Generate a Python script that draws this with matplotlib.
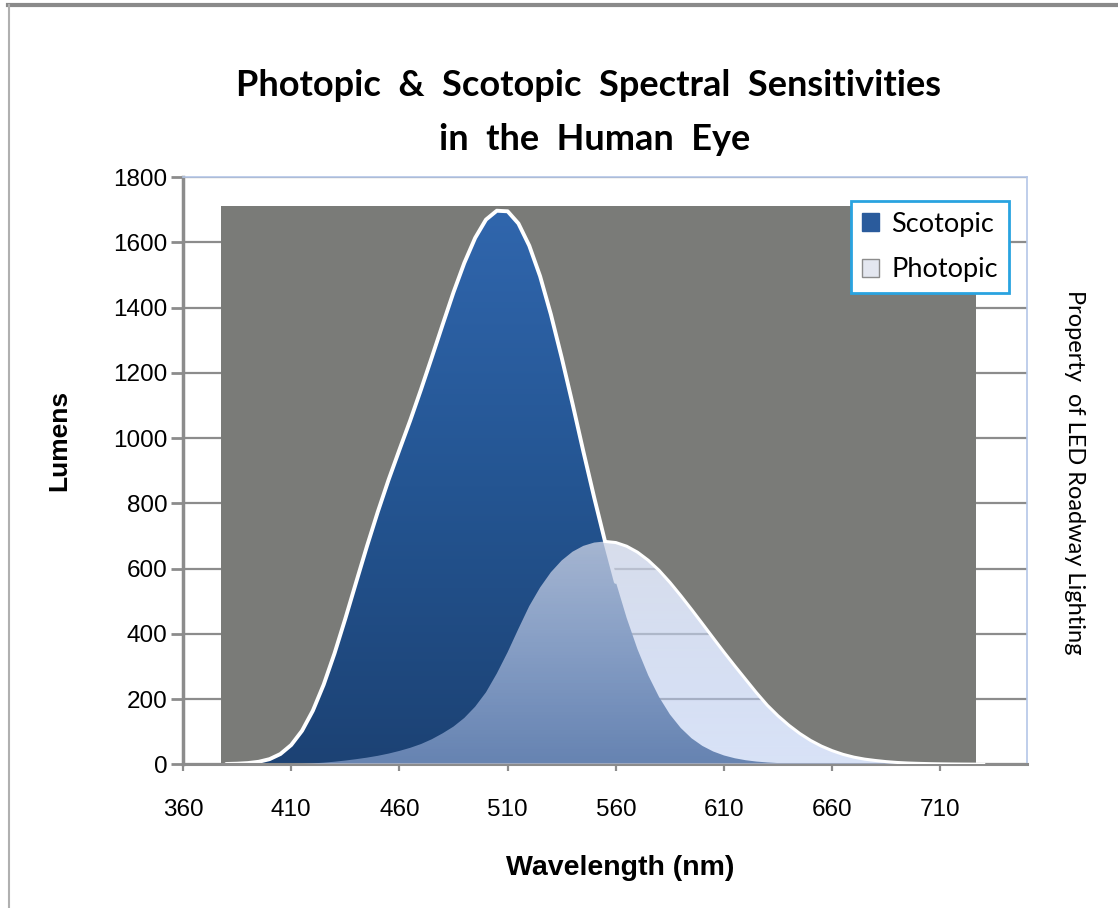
import numpy as np
import matplotlib
matplotlib.use("Agg")
import matplotlib.pyplot as plt
import matplotlib.patches as patches
from matplotlib.lines import Line2D
from matplotlib.colors import LinearSegmentedColormap

# wavelength grid (nm) and luminous efficacy curves (lumens)
wavelength = np.arange(380, 731, 5)
scotopic = [1.0, 1.9, 3.8, 7.7, 15.8, 31.5, 59.2, 102.7, 164.2, 244.1,
            339.7, 446.3, 557.8, 668.3, 773.5, 872.1, 963.9, 1054.0, 1149.2, 1247.8,
            1348.1, 1446.7, 1536.8, 1613.3, 1669.4, 1696.6, 1694.9, 1657.5, 1589.5, 1496.0,
            1378.7, 1246.1, 1105.0, 958.8, 817.7, 683.4, 559.0, 448.6, 352.9, 272.3,
            206.0, 152.8, 111.4, 79.7, 56.4, 39.3, 27.1, 18.5, 12.5, 8.4,
            5.7, 3.8, 2.5, 1.7, 1.2, 0.8, 0.5, 0.4, 0.3, 0.2,
            0.1, 0.1, 0.1, 0.0, 0.0, 0.0, 0.0, 0.0, 0.0, 0.0,
            0.0]
photopic = [0.03, 0.04, 0.08, 0.15, 0.27, 0.44, 0.83, 1.49, 2.73, 4.99,
            7.92, 11.5, 15.7, 20.4, 26.0, 32.8, 41.0, 50.5, 62.1, 76.9,
            95.0, 115.6, 142.1, 176.6, 220.6, 278.2, 343.5, 415.4, 484.9, 541.8,
            588.7, 624.8, 651.6, 669.5, 679.6, 683.0, 679.6, 668.4, 650.2, 625.2,
            594.2, 557.5, 517.0, 474.6, 431.0, 387.1, 343.5, 301.3, 260.2, 219.2,
            181.0, 148.2, 119.5, 94.4, 73.1, 55.7, 41.7, 30.4, 21.9, 15.8,
            11.6, 8.1, 5.6, 3.9, 2.8, 2.0, 1.4, 1.0, 0.7, 0.5,
            0.36]
# grey backdrop series
band_x = [377.5, 726.5]
band_top = 1710

x_ticks = [360, 410, 460, 510, 560, 610, 660, 710]
y_ticks = [0, 200, 400, 600, 800, 1000, 1200, 1400, 1600, 1800]

sco = np.array(scotopic)
pho = np.array(photopic)
wl = wavelength

fig = plt.figure(figsize=(11.18, 9.08), dpi=100)
ax = fig.add_axes([183 / 1118, 1 - 764.3 / 908, 844 / 1118, 587.3 / 908])

grid_col = '#8c8c8c'
ax.set_yticks(y_ticks)
ax.set_xticks(x_ticks)
ax.grid(axis='y', color=grid_col, lw=1.6)
ax.grid(axis='x', visible=False)
ax.set_axisbelow(True)

# grey background block
ax.add_patch(patches.Rectangle((band_x[0], 0), band_x[1] - band_x[0], band_top,
                               facecolor='#7a7b78', edgecolor='none', zorder=1))

# photopic region sits on white with gridlines showing through
poly_p = patches.Polygon(np.column_stack([np.r_[wl, wl[::-1]], np.r_[pho, np.zeros_like(pho)]]),
                         closed=True, facecolor='white', edgecolor='none', zorder=1.1)
ax.add_patch(poly_p)
gl = ax.hlines(y_ticks[1:], 360, 750, colors=grid_col, lw=1.6, zorder=1.2)
gl.set_clip_path(poly_p)

# scotopic, vertical blue gradient
poly_s = patches.Polygon(np.column_stack([np.r_[wl, wl[::-1]], np.r_[sco, np.zeros_like(sco)]]),
                         closed=True, facecolor='none', edgecolor='none')
ax.add_patch(poly_s)
blue = LinearSegmentedColormap.from_list('sco', ['#1c4274', '#245592', '#3066ad'])
grad = np.linspace(0, 1, 256).reshape(-1, 1)
im_s = ax.imshow(grad, extent=[360, 750, 0, 1700], origin='lower', aspect='auto',
                 cmap=blue, zorder=2, interpolation='bilinear')
im_s.set_clip_path(poly_s)

cross = int(np.argmax(pho >= sco))
s_line = np.where(np.arange(len(wl)) <= cross, sco, np.nan)
ax.plot(wl, s_line, color='white', lw=2.8, zorder=2.5, solid_capstyle='round')

# photopic, pale fill that grows bluer and more transparent toward the bottom
gy = np.linspace(0, 700, 256)
t = np.clip(gy / 690, 0, 1)[:, None]
top_c = np.array([205, 212, 230]) / 255
bot_c = np.array([178, 198, 240]) / 255
rgba = np.zeros((256, 1, 4))
rgba[..., :3] = (bot_c * (1 - t) + top_c * t)[:, None, :]
rgba[..., 3] = 0.5 + 0.28 * t
im_p = ax.imshow(rgba, extent=[360, 750, 0, 700], origin='lower', aspect='auto',
                 zorder=3, interpolation='bilinear')
clip_p = patches.Polygon(poly_p.get_xy(), closed=True, facecolor='none', edgecolor='none')
ax.add_patch(clip_p)
im_p.set_clip_path(clip_p)

p_line = np.where(np.arange(len(wl)) >= cross - 1, pho, np.nan)
ax.plot(wl, p_line, color='white', lw=2.2, zorder=3.5)

ax.set_xlim(360, 750)
ax.set_ylim(0, 1800)

for s in ['top', 'right']:
    ax.spines[s].set_color('#b4c6e7')
    ax.spines[s].set_linewidth(1.2)
ax.spines['left'].set_color(grid_col)
ax.spines['left'].set_linewidth(2.5)
ax.spines['bottom'].set_color(grid_col)
ax.spines['bottom'].set_linewidth(2.2)

ax.tick_params(axis='y', length=9, width=2, color=grid_col, pad=2, labelsize=17.5)
ax.tick_params(axis='x', length=5, width=1.6, color=grid_col, pad=20, labelsize=17.5)
for lab in ax.get_yticklabels() + ax.get_xticklabels():
    lab.set_family(['Liberation Sans', 'DejaVu Sans'])

ax.set_xlabel('Wavelength (nm)', fontsize=20.5, fontweight='bold', family='Liberation Sans')
ax.xaxis.set_label_coords((620 - 183) / 844, -(855 - 764.3) / 587.3)
ax.set_ylabel('Lumens', fontsize=19, fontweight='bold', family='Liberation Sans')
ax.yaxis.set_label_coords(-(183 - 71) / 844, (764.3 - 440) / 587.3)

# legend
handles = [patches.Patch(facecolor='#2a5b9c', edgecolor='#2a5b9c', label='Scotopic'),
           patches.Patch(facecolor='#e4e7f0', edgecolor='#8c8c8c', label='Photopic')]
leg = ax.legend(handles=handles, loc='upper right', bbox_to_anchor=(0.9787, 0.959),
                borderaxespad=0, fancybox=False, framealpha=1,
                prop={'family': 'Lato', 'size': 19.5}, handlelength=0.65, handleheight=0.65,
                handletextpad=0.45, labelspacing=0.75, borderpad=0.4)
leg.get_frame().set_edgecolor('#29a3e0')
leg.get_frame().set_linewidth(2)
leg.set_zorder(10)

# titles and side note
fig.text(588 / 1118, 1 - 85 / 908, 'Photopic  &  Scotopic  Spectral  Sensitivities',
         ha='center', va='center', fontsize=26, fontweight='bold', family='Lato')
fig.text(595 / 1118, 1 - 139 / 908, 'in  the  Human  Eye',
         ha='center', va='center', fontsize=26, fontweight='bold', family='Lato')
fig.text(1075 / 1118, 1 - 472 / 908, 'Property  of LED Roadway Lighting', rotation=-90,
         ha='center', va='center', fontsize=17, family='Lato')

# outer frame
fig.add_artist(Line2D([8 / 1118, 1], [1 - 5 / 908, 1 - 5 / 908], color='#8a8a8a', lw=3))
fig.add_artist(Line2D([9 / 1118, 9 / 1118], [0, 1 - 5 / 908], color='#b0b0b0', lw=1.5))

fig.savefig('out.png', dpi=100)
